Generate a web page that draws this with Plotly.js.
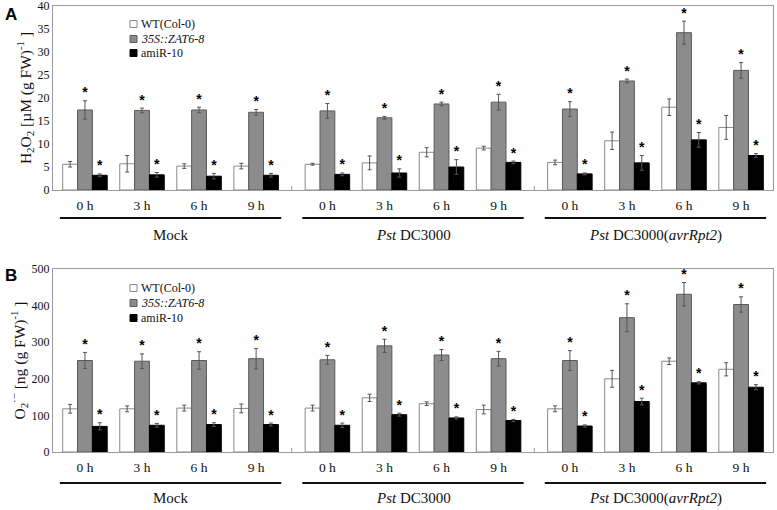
<!DOCTYPE html>
<html>
<head>
<meta charset="utf-8">
<script src="https://cdn.plot.ly/plotly-3.0.1.min.js"></script>
<style>
  body { margin: 0; background: #fff; }
  #chart { width: 777px; height: 510px; }
</style>
</head>
<body>
<div id="chart"></div>
<script>
// time points and treatment groups
var times = ["0 h", "3 h", "6 h", "9 h"];
var groups = ["Mock", "<i>Pst</i> DC3000", "<i>Pst</i> DC3000(<i>avrRpt2</i>)"];
var lines = ["WT(Col-0)", "<i>35S::ZAT6-8</i>", "amiR-10"];

// panel A: H2O2, 12 values = 3 groups x 4 times
var h2o2WT = [5.6, 5.7, 5.2, 5.2, 5.6, 5.9, 8.2, 9.1, 6.0, 10.7, 18.0, 13.6];
var h2o2WTerr = [0.6, 1.8, 0.5, 0.6, 0.2, 1.5, 1.0, 0.4, 0.5, 1.9, 1.8, 2.6];
var h2o2ZAT = [17.4, 17.3, 17.4, 16.9, 17.2, 15.7, 18.7, 19.1, 17.6, 23.7, 34.2, 26.0];
var h2o2ZATerr = [2.0, 0.5, 0.6, 0.6, 1.6, 0.3, 0.4, 1.7, 1.6, 0.4, 2.5, 1.7];
var h2o2Ami = [3.2, 3.3, 3.0, 3.2, 3.4, 3.7, 5.0, 6.0, 3.5, 5.9, 10.9, 7.5];
var h2o2AmiErr = [0.3, 0.5, 0.6, 0.4, 0.3, 0.9, 1.6, 0.3, 0.2, 1.6, 1.6, 0.4];

// panel B: O2-
var o2WT = [118, 118, 120, 119, 120, 148, 132, 116, 118, 200, 248, 226];
var o2WTerr = [12, 8, 8, 12, 8, 10, 5, 12, 8, 23, 9, 18];
var o2ZAT = [250, 248, 250, 255, 252, 290, 265, 255, 250, 367, 431, 403];
var o2ZATerr = [22, 20, 24, 28, 12, 18, 15, 20, 27, 38, 32, 21];
var o2Ami = [70, 73, 75, 75, 73, 102, 93, 86, 71, 138, 189, 177];
var o2AmiErr = [10, 5, 5, 4, 6, 4, 3, 3, 3, 9, 3, 7];

var serif = "Liberation Serif, Times New Roman, serif";
var groupStep = times.length + 0.25;
var barW = 0.26;
var offsets = [-1.5 * barW, -0.5 * barW, 0.5 * barW];
var fills = ["#ffffff", "#8c8c8c", "#000000"];
var edges = ["#8a8a8a", "#5a5a5a", "#000000"];

// plot area in pixels, used to place the hand drawn legend
var mt = 6, mb = 58, H = 510, ml = 53, mr = 4, W = 777;
var plotH = H - mt - mb, plotW = W - ml - mr;
function fy(p) { return (H - mb - p) / plotH; }
function fx(p) { return (p - ml) / plotW; }

var xpos = [];
var xlab = [];
groups.forEach(function (g, gi) {
  times.forEach(function (t, ti) {
    xpos.push(gi * groupStep + ti);
    xlab.push(t);
  });
});
var xRange = [-0.56, xpos[xpos.length - 1] + 0.56];

function panel(series, errs, xa, ya) {
  var out = [];
  series.forEach(function (vals, k) {
    out.push({
      type: "bar",
      name: lines[k],
      x: xpos,
      y: vals,
      width: barW,
      offset: offsets[k],
      xaxis: xa,
      yaxis: ya,
      showlegend: false,
      marker: { color: fills[k], line: { color: edges[k], width: 1 } },
      error_y: { type: "data", array: errs[k], visible: true, color: "#555", thickness: 1, width: 2 },
      hoverinfo: "skip",
    });
  });
  // asterisks over the transgenic lines
  [1, 2].forEach(function (k) {
    out.push({
      type: "scatter",
      mode: "text",
      x: xpos.map(function (p) { return p + offsets[k] + barW / 2; }),
      y: series[k].map(function (v, i) { return v + errs[k][i]; }),
      text: series[k].map(function () { return "*"; }),
      textposition: "top center",
      textfont: { family: "Liberation Sans, Arial, sans-serif", size: 14, color: "#000", weight: "bold" },
      xaxis: xa,
      yaxis: ya,
      showlegend: false,
      hoverinfo: "skip",
      cliponaxis: false,
    });
  });
  return out;
}

var data = []
  .concat(panel([h2o2WT, h2o2ZAT, h2o2Ami], [h2o2WTerr, h2o2ZATerr, h2o2AmiErr], "x", "y"))
  .concat(panel([o2WT, o2ZAT, o2Ami], [o2WTerr, o2ZATerr, o2AmiErr], "x2", "y2"));

var xaxisBase = {
  range: xRange,
  tickvals: xpos,
  ticktext: xlab,
  ticks: "",
  showline: true,
  mirror: true,
  linecolor: "#9a9a9a",
  linewidth: 1,
  showgrid: false,
  zeroline: false,
  tickfont: { family: serif, size: 13.5, color: "#111" },
  ticklabelstandoff: 3,
};
var yaxisBase = {
  ticks: "",
  showline: true,
  mirror: true,
  linecolor: "#9a9a9a",
  linewidth: 1,
  showgrid: false,
  zeroline: false,
  ticklabeloverflow: "allow",
  tickfont: { family: serif, size: 12, color: "#111" },
};

var shapes = [];
var annotations = [];
var underY = [fy(218), fy(483)];
var labY = [fy(235), fy(498)];
var axes = ["x", "x2"];
var yaxes = ["y", "y2"];
axes.forEach(function (xa, pi) {
  groups.forEach(function (g, gi) {
    var first = gi * groupStep;
    shapes.push({
      type: "line", xref: xa, yref: "paper",
      x0: first - 0.44, x1: first + times.length - 1 + 0.44,
      y0: underY[pi], y1: underY[pi],
      line: { color: "#111", width: 2 },
    });
    annotations.push({
      text: g, xref: xa, yref: "paper",
      x: first + (times.length - 1) / 2, y: labY[pi],
      showarrow: false, yanchor: "middle",
      font: { family: serif, size: 15, color: "#111" },
    });
    if (gi > 0) {
      shapes.push({
        type: "line", xref: xa, yref: yaxes[pi],
        ysizemode: "pixel", yanchor: 0,
        x0: first - 0.625, x1: first - 0.625, y0: 0, y1: 4,
        line: { color: "#9a9a9a", width: 1 },
      });
    }
  });
});

// legends: small squares plus text, one per panel
var legendRows = [[24, 39, 53], [288, 303, 318]];
legendRows.forEach(function (rows) {
  rows.forEach(function (py, k) {
    shapes.push({
      type: "rect", xref: "paper", yref: "paper",
      xsizemode: "pixel", ysizemode: "pixel",
      xanchor: fx(130), yanchor: fy(py),
      x0: 0, x1: 7, y0: -3.5, y1: 3.5,
      fillcolor: fills[k], line: { color: edges[k], width: 1 },
    });
    annotations.push({
      text: lines[k], xref: "paper", yref: "paper",
      x: fx(139), y: fy(py), xanchor: "left", yanchor: "middle",
      showarrow: false,
      font: { family: serif, size: 12, color: "#111" },
    });
  });
});

annotations.push({
  text: "<b>A</b>", xref: "paper", yref: "paper", x: fx(3), y: fy(3),
  xanchor: "left", yanchor: "top", showarrow: false,
  font: { family: "Liberation Sans, Arial, sans-serif", size: 17, color: "#000" },
});
annotations.push({
  text: "<b>B</b>", xref: "paper", yref: "paper", x: fx(3), y: fy(264),
  xanchor: "left", yanchor: "top", showarrow: false,
  font: { family: "Liberation Sans, Arial, sans-serif", size: 17, color: "#000" },
});

var layout = {
  width: W,
  height: H,
  margin: { l: ml, r: mr, t: mt, b: mb },
  paper_bgcolor: "#fff",
  plot_bgcolor: "#fff",
  showlegend: false,
  xaxis: Object.assign({}, xaxisBase, { anchor: "y" }),
  xaxis2: Object.assign({}, xaxisBase, { anchor: "y2" }),
  yaxis: Object.assign({}, yaxisBase, {
    domain: [fy(190), 1], range: [0, 40], dtick: 5, anchor: "x",
    title: { text: "H<sub>2</sub>O<sub>2</sub> [µM (g FW)<sup>-1</sup> ]", font: { family: serif, size: 15.5, color: "#111" }, standoff: 2 },
  }),
  yaxis2: Object.assign({}, yaxisBase, {
    domain: [0, fy(269)], range: [0, 500], dtick: 100, anchor: "x2",
    title: { text: "O<sub>2</sub><sup>·−</sup> [ng (g FW)<sup>-1</sup> ]", font: { family: serif, size: 15.5, color: "#111" }, standoff: 2 },
  }),
  shapes: shapes,
  annotations: annotations,
};

Plotly.newPlot("chart", data, layout, { staticPlot: true, displayModeBar: false });
</script>
</body>
</html>
